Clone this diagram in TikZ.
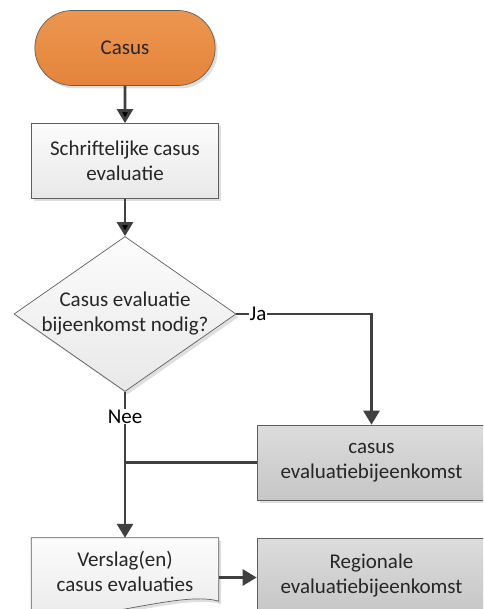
\documentclass[tikz,border=0pt]{standalone}
\usepackage{fontspec}
\setmainfont{Carlito}
\usetikzlibrary{arrows.meta,positioning,shapes.geometric,shapes.misc,shadows,backgrounds}

\definecolor{casustop}{RGB}{236,150,80}
\definecolor{casusbot}{RGB}{228,132,58}
\definecolor{lighttop}{RGB}{252,252,252}
\definecolor{lightbot}{RGB}{232,232,232}
\definecolor{graytop}{RGB}{220,220,220}
\definecolor{graybot}{RGB}{198,198,198}
\definecolor{rimgray}{RGB}{95,95,95}
\definecolor{flowgray}{RGB}{64,64,64}
\definecolor{inkgray}{RGB}{38,38,38}

\begin{document}
\begin{tikzpicture}[node distance=2cm,on grid,x=1pt,y=1pt,
    font=\fontsize{21}{25}\selectfont,text=inkgray]
       \tikzstyle{shade}=[drop shadow={shadow xshift=2.5pt,shadow yshift=-3pt,opacity=0.25}]
       \tikzstyle{box}=[rectangle,draw=rimgray,line width=0.7pt,align=center,
         minimum width=187pt,minimum height=75pt,shade]
       \tikzstyle{lightbox}=[box,top color=lighttop,bottom color=lightbot]
       \tikzstyle{graybox}=[box,minimum width=229pt,top color=graytop,bottom color=graybot]
       \tikzstyle{flow}=[draw=flowgray,line width=2.9pt]
       \tikzstyle{arr}=[flow,-{Triangle[length=14pt,width=16pt]}]

       \useasboundingbox (0,0) rectangle (483,-609);
       \clip (0,0) rectangle (483,-609);

       \node[box,rounded rectangle,top color=casustop,bottom color=casusbot] (casus) at (125,-48) {Casus};
       \node[lightbox] (schrift) [below =113pt of casus] {Schriftelijke casus\\evaluatie};
       \node[diamond,draw=rimgray,line width=0.7pt,aspect=1.43,inner sep=-2pt,align=center,
         minimum width=222pt,minimum height=155pt,top color=lighttop,bottom color=lightbot,shade]
         (dec) [below =153pt of schrift] {Casus evaluatie\\bijeenkomst nodig?};
       \node[graybox] (evalb) [below right =148.5pt and 246.5pt of dec] {casus\\evaluatiebijeenkomst};
       \node[rectangle,align=center,minimum width=187pt,minimum height=67pt] (verslag)
         [below =257.5pt of dec] {Verslag(en)\\casus evaluaties};
       \node[graybox] (regio) [below =113pt of evalb] {Regionale\\evaluatiebijeenkomst};

       % wavy bottom of the report
       \begin{scope}[on background layer]
         \path[draw=rimgray,line width=0.7pt,top color=lighttop,bottom color=lightbot,shade]
           (verslag.north west) -- (verslag.north east) -- ([yshift=4pt]verslag.south east)
           .. controls +(-40pt,12pt) and +(50pt,-15pt) .. ([yshift=-8pt]verslag.south west) -- cycle;
       \end{scope}

       \coordinate (join) at (dec.south |- evalb.west);

       \path[arr] (casus) edge (schrift)
         (schrift) edge (dec);
       \draw[arr] (dec.east) -| node[pos=0.08,fill=white,inner sep=1pt,text=black] {Ja} (evalb.north);
       \draw[arr] (dec.south) -- node[pos=0.17,fill=white,inner sep=1pt,text=black] {Nee} (verslag.north);
       \draw[flow] (evalb.west) -- (join);
       \draw[arr] ([yshift=-6pt]verslag.east) -- ([yshift=-6pt]verslag.east -| regio.west);
     \end{tikzpicture}
\end{document}
